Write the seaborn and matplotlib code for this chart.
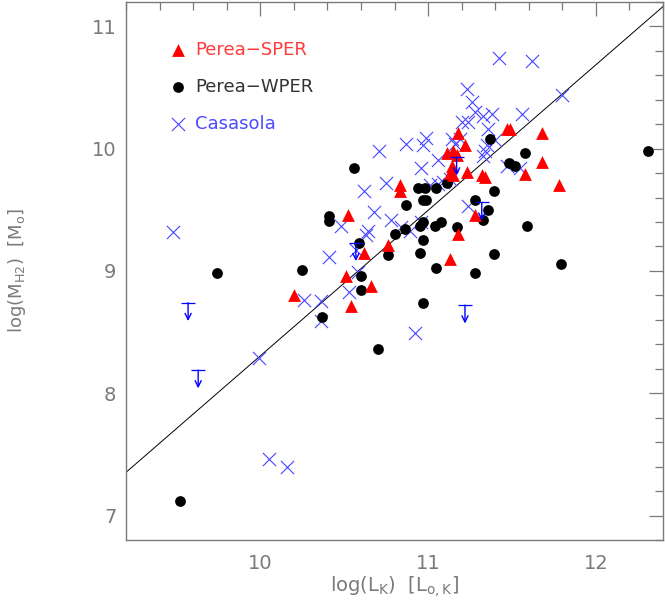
import numpy as np
import matplotlib
matplotlib.use("Agg")
import matplotlib.pyplot as plt
import seaborn as sns
from matplotlib.ticker import MultipleLocator

# Perea - SPER (red triangles)
sper_lk = [10.20, 10.51, 10.54, 10.52, 10.62, 10.66, 10.76, 10.83, 10.83, 11.11,
           11.15, 11.17, 11.14, 11.13, 11.15, 11.18, 11.22, 11.23, 11.32, 11.34,
           11.47, 11.49, 11.58, 11.68, 11.68, 11.78, 11.28, 11.18, 11.13]
sper_mh2 = [8.80, 8.96, 8.71, 9.46, 9.15, 8.88, 9.21, 9.70, 9.65, 9.96,
            9.98, 9.95, 9.86, 9.80, 9.78, 10.13, 10.03, 9.81, 9.78, 9.77,
            10.16, 10.16, 9.79, 10.13, 9.89, 9.70, 9.46, 9.30, 9.10]

# Perea - WPER (black circles)
wper_lk = [9.52, 9.74, 10.25, 10.37, 10.41, 10.41, 10.56, 10.59, 10.60, 10.60,
           10.70, 10.76, 10.80, 10.86, 10.87, 10.94, 10.98, 11.05, 11.11, 10.97,
           10.99, 10.95, 10.97, 10.97, 10.95, 10.97, 11.04, 11.08, 11.05, 11.17,
           11.28, 11.28, 11.33, 11.36, 11.39, 11.39, 11.37, 11.48, 11.52, 11.58,
           11.59, 11.79, 12.31]
wper_mh2 = [7.12, 8.98, 9.01, 8.62, 9.45, 9.41, 9.84, 9.23, 8.96, 8.84,
            8.36, 9.13, 9.30, 9.34, 9.54, 9.68, 9.68, 9.68, 9.72, 9.58,
            9.58, 9.37, 9.40, 9.25, 9.15, 8.74, 9.37, 9.40, 9.02, 9.36,
            9.58, 8.98, 9.42, 9.50, 9.65, 9.14, 10.08, 9.88, 9.86, 9.96,
            9.37, 9.06, 9.98]

# Casasola (blue crosses)
cas_lk = [9.48, 9.99, 10.05, 10.16, 10.26, 10.36, 10.36, 10.41, 10.48, 10.53,
          10.57, 10.58, 10.62, 10.63, 10.64, 10.68, 10.71, 10.75, 10.78, 10.84,
          10.89, 10.87, 10.92, 10.96, 10.96, 10.97, 10.99, 11.01, 11.06, 11.06,
          11.09, 11.13, 11.14, 11.16, 11.19, 11.20, 11.24, 11.23, 11.24, 11.26,
          11.28, 11.33, 11.38, 11.36, 11.33, 11.34, 11.35, 11.40, 11.42, 11.47,
          11.55, 11.56, 11.62, 11.80]
cas_mh2 = [9.32, 8.29, 7.46, 7.40, 8.76, 8.75, 8.59, 9.11, 9.37, 8.83,
           9.17, 8.99, 9.65, 9.29, 9.33, 9.48, 9.98, 9.72, 9.42, 9.36,
           9.33, 10.04, 8.49, 9.40, 9.84, 10.03, 10.09, 9.70, 9.91, 9.71,
           9.73, 9.75, 10.08, 10.04, 10.08, 10.22, 10.22, 10.49, 9.53, 10.38,
           10.30, 10.27, 10.28, 10.16, 9.94, 9.98, 10.03, 10.07, 10.74, 9.86,
           9.84, 10.28, 10.72, 10.44]

# Casasola upper limits
lim_lk = [9.57, 9.63, 10.57, 11.17, 11.32, 11.22]
lim_mh2 = [8.74, 8.19, 9.23, 9.93, 9.56, 8.72]

# linear relation
fit_slope = 1.19
fit_icpt = -3.595

grey = "#7a7a7a"

sns.set_style("white")
plt.rcParams["font.family"] = ["DejaVu Sans"]

fig = plt.figure(figsize=(6.65, 6.0), dpi=100)
ax = fig.add_axes([126 / 665, 0.10, 537 / 665, 0.897])

ax.axline((0, fit_icpt), slope=fit_slope, color="black", lw=0.7, zorder=1)

sns.scatterplot(x=cas_lk, y=cas_mh2, marker="x", color="#4646ff", s=90,
                linewidth=0.8, ax=ax, label="Casasola", zorder=2)
sns.scatterplot(x=wper_lk, y=wper_mh2, marker="o", color="black", s=60,
                linewidth=0, ax=ax, label="Perea\u2212WPER", zorder=3)
sns.scatterplot(x=sper_lk, y=sper_mh2, marker="^", color="red", s=85,
                linewidth=0, ax=ax, label="Perea\u2212SPER", zorder=4)

# upper limits: cap + downward arrow
sns.scatterplot(x=lim_lk, y=lim_mh2, marker="_", color="blue", s=90,
                linewidth=0.9, ax=ax, zorder=5)
for xv, yv in zip(lim_lk, lim_mh2):
    ax.annotate("", xy=(xv, yv - 0.15), xytext=(xv, yv),
                arrowprops=dict(arrowstyle="->", color="blue", lw=1.0,
                                shrinkA=0, shrinkB=0, mutation_scale=11),
                zorder=5)

ax.set_xlim(9.2, 12.4)
ax.set_ylim(6.8, 11.2)
ax.xaxis.set_major_locator(MultipleLocator(1))
ax.xaxis.set_minor_locator(MultipleLocator(0.2))
ax.yaxis.set_major_locator(MultipleLocator(1))
ax.yaxis.set_minor_locator(MultipleLocator(0.2))
ax.tick_params(which="both", direction="in", top=True, right=True,
               color=grey, labelcolor=grey, labelsize=14, width=0.9)
ax.tick_params(which="major", length=10)
ax.tick_params(which="minor", length=6)
ax.tick_params(axis="x", which="major", pad=10)
ax.tick_params(axis="y", which="major", pad=7)
for sp in ax.spines.values():
    sp.set_color(grey)
    sp.set_linewidth(1.0)

ax.set_xlabel(r"log(L$_\mathrm{K}$)  [L$_\mathrm{o,K}$]", color=grey,
              fontsize=14, labelpad=1)
ax.set_ylabel(r"log(M$_\mathrm{H2}$)  [M$_\mathrm{o}$]", color=grey,
              fontsize=13, labelpad=46)

handles, labels = ax.get_legend_handles_labels()
order = [2, 1, 0]
leg = ax.legend([handles[i] for i in order], [labels[i] for i in order],
                loc="upper left", frameon=False, fontsize=13,
                bbox_to_anchor=(0.05, 0.958), handletextpad=0.45,
                labelspacing=1.05, handlelength=1.0)
for txt, col in zip(leg.get_texts(), ["#ff3b3b", "#333333", "#4a4aff"]):
    txt.set_color(col)

fig.savefig("out.png", dpi=100)
